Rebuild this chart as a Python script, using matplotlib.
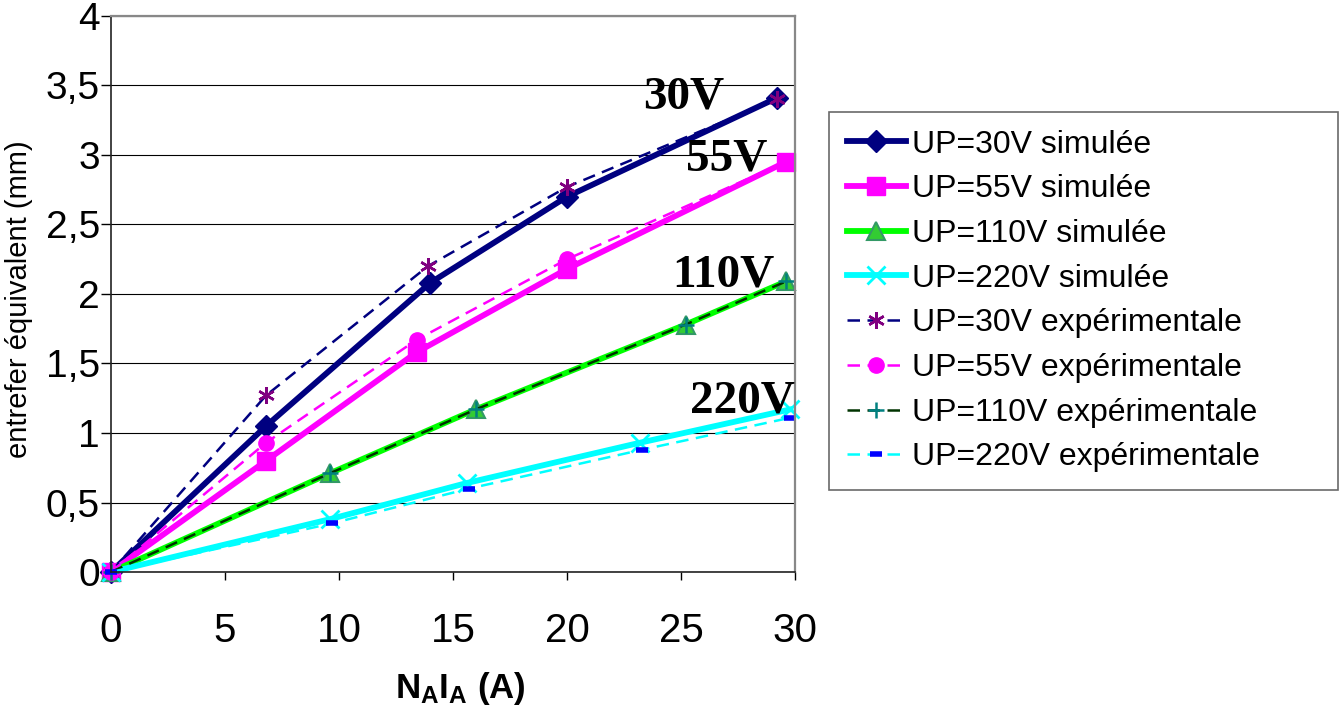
import matplotlib
matplotlib.use("Agg")
import matplotlib.pyplot as plt

# values
x_sim_30 = [0, 6.8, 14.0, 20.0, 29.2]
y_sim_30 = [0, 1.05, 2.08, 2.70, 3.41]
x_sim_55 = [0, 6.8, 13.4, 20.0, 29.6]
y_sim_55 = [0, 0.80, 1.58, 2.18, 2.95]
x_sim_110 = [0, 9.6, 16.0, 25.2, 29.6]
y_sim_110 = [0, 0.71, 1.17, 1.78, 2.09]
x_sim_220 = [0, 9.6, 15.6, 23.2, 29.8]
y_sim_220 = [0, 0.38, 0.64, 0.93, 1.17]

x_exp_30 = [0, 6.8, 13.9, 20.0, 29.2]
y_exp_30 = [0, 1.27, 2.20, 2.77, 3.40]
x_exp_55 = [0, 6.8, 13.4, 20.0, 29.6]
y_exp_55 = [0, 0.93, 1.67, 2.25, 2.95]
x_exp_110 = [0, 9.6, 16.0, 25.2, 29.6]
y_exp_110 = [0, 0.71, 1.17, 1.78, 2.09]
x_exp_220 = [0, 9.7, 15.7, 23.3, 29.8]
y_exp_220 = [0, 0.35, 0.60, 0.88, 1.11]

x_ticks = [0, 5, 10, 15, 20, 25, 30]
y_ticks = [0, 0.5, 1, 1.5, 2, 2.5, 3, 3.5, 4]
y_tick_labels = ["0", "0,5", "1", "1,5", "2", "2,5", "3", "3,5", "4"]

curve_names = ["30V", "55V", "110V", "220V"]
curve_label_pos = [(26.9, 3.41), (28.8, 2.97), (29.1, 2.13), (30.0, 1.23)]

plt.rcParams["font.family"] = ["Liberation Sans", "DejaVu Sans"]
plt.rcParams["mathtext.fontset"] = "custom"
plt.rcParams["mathtext.rm"] = "Liberation Sans"
plt.rcParams["mathtext.bf"] = "Liberation Sans:bold"

fig = plt.figure(figsize=(13.42, 7.16), dpi=100)
ax = fig.add_axes([0.0827, 0.2011, 0.5097, 0.7766])

# simulated curves: thick solid lines
ax.plot(x_sim_30, y_sim_30, color="#000080", lw=4.2, marker="D", ms=11,
        label="UP=30V simulée", clip_on=False)
ax.plot(x_sim_55, y_sim_55, color="#FF00FF", lw=4.2, marker="s", ms=13,
        label="UP=55V simulée", clip_on=False)
ax.plot(x_sim_110, y_sim_110, color="#00FF00", lw=4.2, marker="^", ms=13,
        mfc="#33CC33", mec="#339966", mew=1.5, label="UP=110V simulée",
        clip_on=False)
ax.plot(x_sim_220, y_sim_220, color="#00FFFF", lw=4.2, marker="x", ms=13,
        mew=2, label="UP=220V simulée", clip_on=False)

# experimental curves: thin dashed lines
ax.plot(x_exp_30, y_exp_30, color="#000080", lw=1.8, dashes=(5, 3),
        marker=(6, 2, 0), ms=12, mec="#800080", mew=1.8,
        label="UP=30V expérimentale", clip_on=False)
ax.plot(x_exp_55, y_exp_55, color="#FF00FF", lw=1.8, dashes=(5, 3),
        marker="o", ms=11, label="UP=55V expérimentale", clip_on=False)
ax.plot(x_exp_110, y_exp_110, color="#003300", lw=1.8, dashes=(5, 3),
        marker="+", ms=12, mec="#008080", mew=1.8,
        label="UP=110V expérimentale", clip_on=False)
ax.plot(x_exp_220, y_exp_220, color="#00FFFF", lw=1.8, dashes=(5, 3),
        marker="_", ms=8, mec="#0000FF", mew=4,
        label="UP=220V expérimentale", clip_on=False)

for name, pos in zip(curve_names, curve_label_pos):
    ax.text(pos[0], pos[1], name, ha="right", va="center", fontsize=34,
            fontweight="bold", family="Liberation Serif")

ax.set_xlim(0, 30)
ax.set_ylim(0, 4)
ax.set_xticks(x_ticks)
ax.set_yticks(y_ticks)
ax.set_yticklabels(y_tick_labels)
ax.tick_params(axis="x", labelsize=29, length=6, width=1, pad=23, direction="out")
ax.tick_params(axis="y", labelsize=28, length=7, width=1, pad=1, direction="out")
ax.grid(axis="y", color="black", lw=0.8)
ax.set_axisbelow(True)

for side in ["left", "bottom"]:
    ax.spines[side].set_color("#222222")
    ax.spines[side].set_linewidth(1.2)
for side in ["right", "top"]:
    ax.spines[side].set_color("#888888")
    ax.spines[side].set_linewidth(1.6)

ax.set_ylabel("entrefer équivalent (mm)", fontsize=21)
ax.yaxis.set_label_coords(-0.114, 0.49)
ax.set_xlabel(r"$\mathbf{N_{A}I_{A}}$ (A)", fontsize=25, fontweight="bold")
ax.xaxis.set_label_coords(0.51, -0.176)

leg = fig.legend(loc="upper left", bbox_to_anchor=(0.6177, 0.8436, 0.3793, 0.0),
                 mode="expand", borderaxespad=0, fontsize=23, frameon=True,
                 fancybox=False, edgecolor="#444444", handlelength=1.85,
                 handletextpad=0.2, labelspacing=0.46, borderpad=0.55)
leg.get_frame().set_linewidth(1.2)

fig.savefig("out.png", dpi=100, facecolor="white")
